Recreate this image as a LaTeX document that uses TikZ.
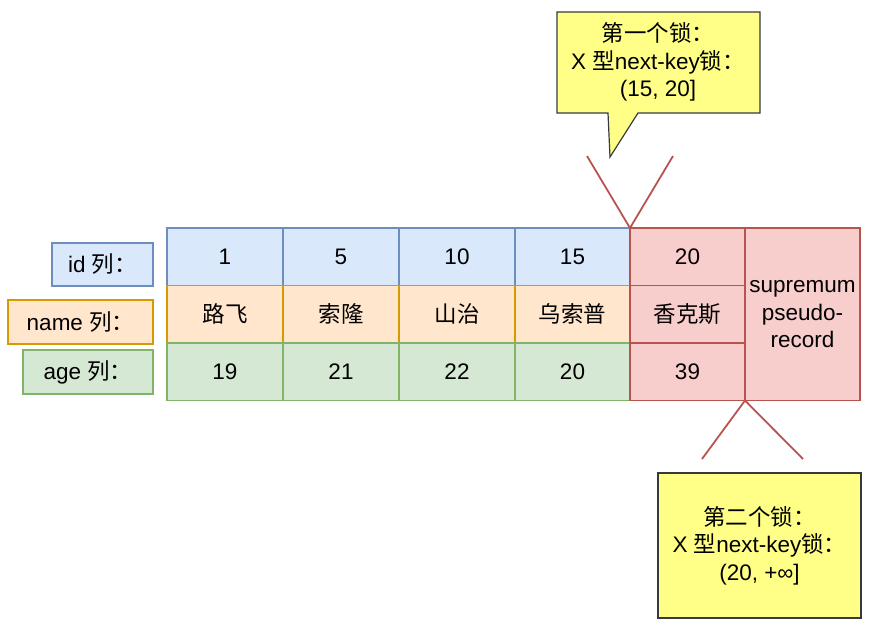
\documentclass[tikz,border=0pt]{standalone}
\usepackage{fontspec}
\setmainfont{Liberation Sans}
\newfontfamily\cjk{Noto Sans CJK SC}
\definecolor{bluefill}{HTML}{DAE8FC}
\definecolor{bluedraw}{HTML}{6C8EBF}
\definecolor{orangefill}{HTML}{FFE6CC}
\definecolor{orangedraw}{HTML}{D79B00}
\definecolor{greenfill}{HTML}{D5E8D4}
\definecolor{greendraw}{HTML}{82B366}
\definecolor{redfill}{HTML}{F8CECC}
\definecolor{reddraw}{HTML}{B85450}
\definecolor{notefill}{HTML}{FFFF88}
\definecolor{notedraw}{HTML}{36393D}
\begin{document}
\begin{tikzpicture}[x=1pt,y=-1pt,
  base/.style={inner sep=0pt, outer sep=0pt, line width=1.2pt, anchor=north west,
    font=\fontsize{22.5}{27.5}\selectfont, align=center},
  bluec/.style={base, draw=bluedraw, fill=bluefill},
  orangec/.style={base, draw=orangedraw, fill=orangefill},
  greenc/.style={base, draw=greendraw, fill=greenfill},
  redc/.style={base, draw=reddraw, fill=redfill},
  notebox/.style={draw=notedraw, fill=notefill, line width=1.2pt},
  notetext/.style={inner sep=0pt, font=\fontsize{22.5}{27.5}\selectfont, align=center},
  vline/.style={draw=reddraw, line width=1.8pt},
  cw/.style={minimum width=116pt},
  rh/.style={minimum height=57.5pt}
]
\useasboundingbox (0,0) rectangle (870,626);
% row labels
\node[bluec, minimum width=101pt, minimum height=43pt] (lid) at (52,243) {id {\cjk 列：}};
\node[orangec, minimum width=145pt, minimum height=44pt] (lname) at (8,300) {name {\cjk 列：}};
\node[greenc, minimum width=130pt, minimum height=44pt] (lage) at (23,350) {age {\cjk 列：}};
% id row
\node[bluec, cw, rh] (i1) at (167,228) {1};
\node[bluec, cw, rh] (i5) at (283,228) {5};
\node[bluec, cw, rh] (i10) at (399,228) {10};
\node[bluec, minimum width=115pt, rh] (i15) at (515,228) {15};
% name row
\node[orangec, cw, rh] (n1) at (167,285.5) {\cjk 路飞};
\node[orangec, cw, rh] (n5) at (283,285.5) {\cjk 索隆};
\node[orangec, cw, rh] (n10) at (399,285.5) {\cjk 山治};
\node[orangec, minimum width=115pt, rh] (n15) at (515,285.5) {\cjk 乌索普};
% age row
\node[greenc, cw, rh] (a1) at (167,343) {19};
\node[greenc, cw, rh] (a5) at (283,343) {21};
\node[greenc, cw, rh] (a10) at (399,343) {22};
\node[greenc, minimum width=115pt, rh] (a15) at (515,343) {20};
% red column
\node[redc, minimum width=115pt, rh] (i20) at (630,228) {20};
\node[redc, minimum width=115pt, rh] (n20) at (630,285.5) {\cjk 香克斯};
\node[redc, minimum width=115pt, rh] (a20) at (630,343) {39};
\node[redc, minimum width=115pt, minimum height=172.5pt] (sup) at (745,228) {supremum\\pseudo-\\record};
% top callout
\coordinate (c1nw) at (557,12);
\coordinate (c1ne) at (760,12);
\coordinate (c1se) at (760,113);
\coordinate (c1pr) at (638,113);
\coordinate (c1tip) at (610,157);
\coordinate (c1pl) at (608,113);
\coordinate (c1sw) at (557,113);
\draw[notebox] (c1nw) -- (c1ne) -- (c1se) -- (c1pr) -- (c1tip) -- (c1pl) -- (c1sw) -- cycle;
\node[notetext] (t1) at (658,62) {{\cjk 第一个锁：}\\X {\cjk 型}next-key{\cjk 锁：}\\(15, 20]};
% top V
\coordinate (v1l) at (587,156);
\coordinate (v1r) at (673,156);
\draw[vline] (v1l) -- (i15.north east) -- (v1r);
% bottom V
\coordinate (v2l) at (702,459);
\coordinate (v2r) at (803,459);
\draw[vline] (v2l) -- (a20.south east) -- (v2r);
% bottom callout
\node[notebox, base, minimum width=203pt, minimum height=145pt] (c2) at (658,473) {};
\node[notetext] (t2) at (c2.center) {{\cjk 第二个锁：}\\X {\cjk 型}next-key{\cjk 锁：}\\(20, +∞]};
\end{tikzpicture}
\end{document}
